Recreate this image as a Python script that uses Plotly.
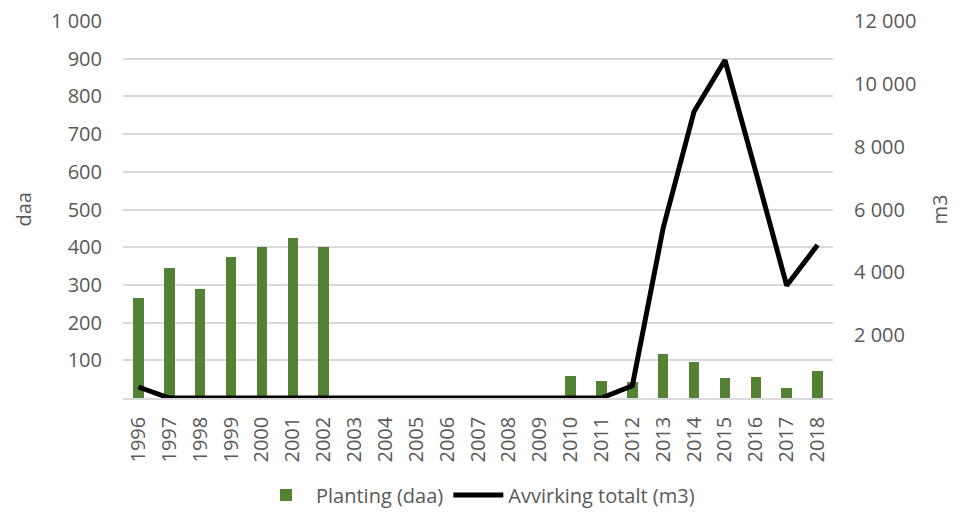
import plotly.graph_objects as go

# Farger og font (Excel-lignende)
_GREEN = "#548235"
_TEXT = "#595959"
_GRID = "#d9d9d9"
_FONT = "Open Sans, Liberation Sans, Arial, sans-serif"

YEARS = [str(y) for y in range(1996, 2019)]

PLANTING = [264, 346, 288, 375, 400, 425, 400,
            0, 0, 0, 0, 0, 0, 0,
            59, 45, 42, 116, 96, 53, 56, 26, 72]

AVVIRKING = [350, 0, 0, 0, 0, 0, 0,
             0, 0, 0, 0, 0, 0, 0,
             0, 0, 390, 5420, 9120, 10750, 7200, 3580, 4870]

LEFT_TICKS = [100, 200, 300, 400, 500, 600, 700, 800, 900, 1000]
LEFT_LABELS = ["100", "200", "300", "400", "500", "600", "700", "800", "900", "1 000"]
RIGHT_TICKS = [2000, 4000, 6000, 8000, 10000, 12000]
RIGHT_LABELS = ["2 000", "4 000", "6 000", "8 000", "10 000", "12 000"]

# Siden har 8 px body-marg; figuren holdes innenfor vinduet uten rullefelt
W, H = 947, 503
L, R, T, B = 115, 122, 13, 113
PW = W - L - R
PH = H - T - B

fig = go.Figure()

fig.add_trace(go.Bar(
    x=YEARS,
    y=PLANTING,
    name="Planting (daa)",
    marker=dict(color=_GREEN, line=dict(width=0)),
    width=0.34,
    yaxis="y",
))

fig.add_trace(go.Scatter(
    x=YEARS,
    y=AVVIRKING,
    name="Avvirking totalt (m3)",
    mode="lines",
    line=dict(color="black", width=5),
    yaxis="y2",
))

fig.update_layout(
    width=W,
    height=H,
    paper_bgcolor="white",
    plot_bgcolor="white",
    font=dict(family=_FONT, color=_TEXT, size=20),
    margin=dict(l=L, r=R, t=T, b=B, autoexpand=False),
    xaxis=dict(
        type="category",
        tickangle=-90,
        tickfont=dict(size=20, color=_TEXT),
        showgrid=False,
        showline=True,
        linecolor=_GRID,
        linewidth=1.5,
        ticks="",
        ticklabelstandoff=9,
        automargin=False,
    ),
    yaxis=dict(
        range=[0, 1000],
        tickvals=LEFT_TICKS,
        ticktext=LEFT_LABELS,
        showgrid=True,
        gridcolor=_GRID,
        gridwidth=1.5,
        zeroline=False,
        ticks="",
        ticklabelstandoff=20,
        ticklabeloverflow="allow",
        automargin=False,
    ),
    yaxis2=dict(
        overlaying="y",
        side="right",
        range=[0, 12000],
        tickvals=RIGHT_TICKS,
        ticktext=RIGHT_LABELS,
        showgrid=False,
        zeroline=False,
        ticks="",
        ticklabelstandoff=20,
        ticklabeloverflow="allow",
        automargin=False,
    ),
    legend=dict(
        orientation="h",
        x=0.5,
        xanchor="center",
        y=-97 / PH,
        yanchor="middle",
        itemwidth=50,
        font=dict(size=20, color=_TEXT),
        bgcolor="rgba(0,0,0,0)",
    ),
    bargap=0.0,
)

# Aksetitler som annotasjoner, plassert i piksler
fig.add_annotation(text="daa", xref="paper", x=(15 - L) / PW, xanchor="center",
                   yref="paper", y=0.5, yanchor="middle", textangle=-90,
                   showarrow=False, font=dict(size=20, color=_TEXT))
fig.add_annotation(text="m3", xref="paper", x=(931 - L) / PW, xanchor="center",
                   yref="paper", y=0.5, yanchor="middle", textangle=-90,
                   showarrow=False, font=dict(size=20, color=_TEXT))

fig.write_html("out.html")
